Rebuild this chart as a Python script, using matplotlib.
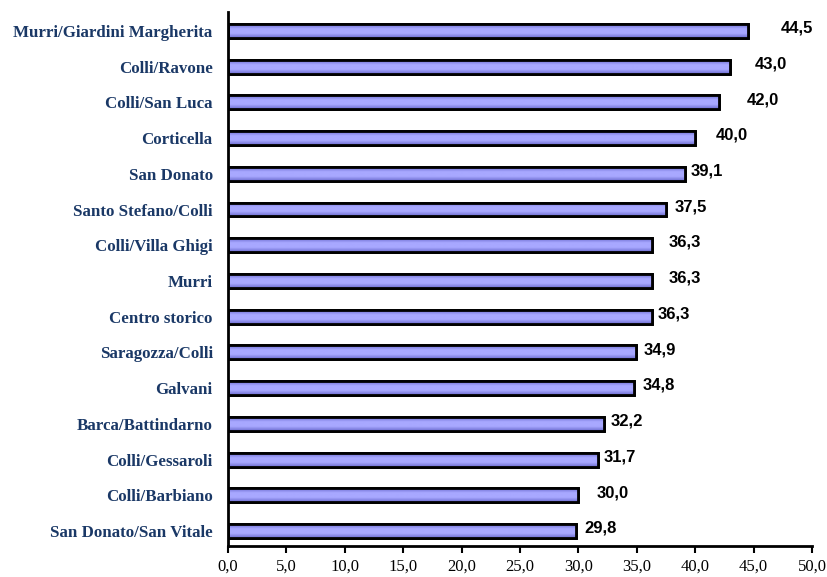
import matplotlib
matplotlib.use("Agg")
import matplotlib.pyplot as plt
import numpy as np
from matplotlib.colors import LinearSegmentedColormap

categories = ["Murri/Giardini Margherita", "Colli/Ravone", "Colli/San Luca", "Corticella",
              "San Donato", "Santo Stefano/Colli", "Colli/Villa Ghigi", "Murri",
              "Centro storico", "Saragozza/Colli", "Galvani", "Barca/Battindarno",
              "Colli/Gessaroli", "Colli/Barbiano", "San Donato/San Vitale"]
values = [44.5, 43.0, 42.0, 40.0, 39.1, 37.5, 36.3, 36.3, 36.3, 34.9, 34.8, 32.2, 31.7, 30.0, 29.8]
xticks = [0, 5, 10, 15, 20, 25, 30, 35, 40, 45, 50]

# label horizontal offsets (points) from the bar end, as placed in the original
label_dx = [24, 18, 20, 15, 4, 6, 12, 12, 4, 6, 6, 5, 4, 13, 6]

fig = plt.figure(figsize=(8.27, 5.77), dpi=100)
ax = fig.add_axes([228/827, 1-546/577, (812-228)/827, (546-12)/577])

ypos = list(range(len(categories)))
bh = 0.39
bars = ax.barh(ypos, values, height=bh, color="#9999FF", edgecolor="black", linewidth=2, zorder=3)

cmap = LinearSegmentedColormap.from_list("g", ["#6B6BCF", "#A8A8FF", "#A8A8FF", "#6B6BCF"])
grad = np.linspace(0, 1, 64).reshape(-1, 1)
for b in bars:
    x0, y0, w, h = b.get_x(), b.get_y(), b.get_width(), b.get_height()
    im = ax.imshow(grad, cmap=cmap, aspect="auto", extent=(x0, x0 + w, y0 + h, y0),
                   zorder=3.5, interpolation="bilinear")
    im.set_clip_path(b)
    ax.barh(y0 + h / 2, w, height=h, left=x0, fill=False, edgecolor="black",
            linewidth=2, zorder=4)

for y, v, dx in zip(ypos, values, label_dx):
    ax.annotate(f"{v:.1f}".replace(".", ","), xy=(v, y), xytext=(dx, 2),
                textcoords="offset points", ha="left", va="center",
                fontsize=12, fontweight="bold", family="Liberation Sans", color="black")

ax.set_xlim(0, 50)
ax.set_ylim(14.42, -0.53)
ax.set_yticks(ypos)
ax.set_yticklabels(categories, fontsize=12.2, fontweight="bold", family="Liberation Serif",
                   color="#1A3866")
ax.tick_params(axis="y", length=0, pad=11)
ax.set_xticks(xticks)
ax.set_xticklabels([f"{t:.1f}".replace(".", ",") for t in xticks], fontsize=12,
                   family="Liberation Serif")
ax.tick_params(axis="x", length=5, width=1.5, direction="out", pad=4)

for s in ["top", "right"]:
    ax.spines[s].set_visible(False)
for s in ["left", "bottom"]:
    ax.spines[s].set_linewidth(2)
    ax.spines[s].set_zorder(5)

fig.savefig("out.png", dpi=100)
